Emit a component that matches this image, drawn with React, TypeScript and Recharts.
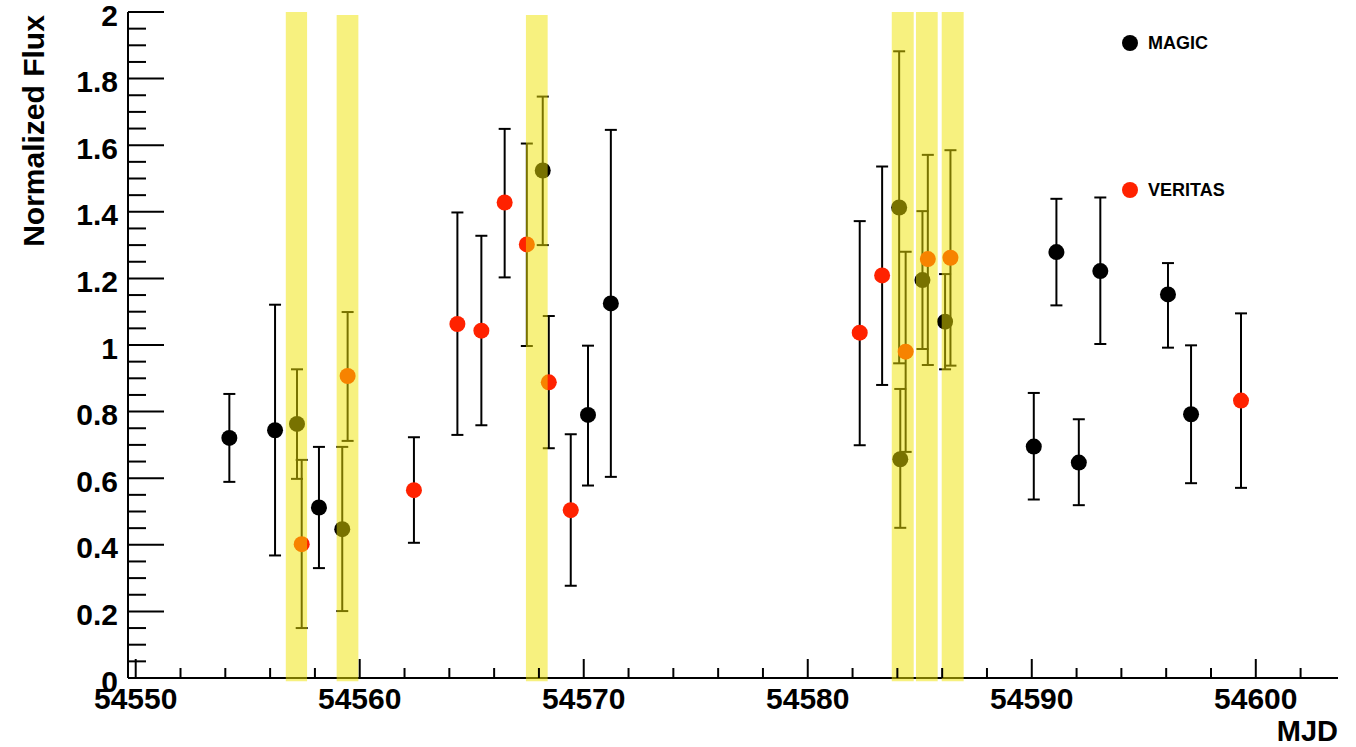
import React from "react";
import {
  ErrorBar,
  ReferenceArea,
  Scatter,
  ScatterChart,
  XAxis,
  YAxis,
} from "recharts";

const FONT = "'Liberation Sans', Arial, Helvetica, sans-serif";

// MAGIC light curve (MJD, normalized flux, lower / upper end of error bar)
const magicMjd = [
  54554.18, 54556.22, 54557.2, 54558.18, 54559.22, 54568.17, 54570.19,
  54571.21, 54584.08, 54584.13, 54585.12, 54586.13, 54590.09, 54591.1,
  54592.1, 54593.06, 54596.08, 54597.11,
];
const magicFlux = [
  0.721, 0.744, 0.763, 0.512, 0.447, 1.524, 0.79, 1.125, 1.413, 0.657, 1.195,
  1.07, 0.695, 1.279, 0.647, 1.222, 1.152, 0.792,
];
const magicLow = [
  0.589, 0.368, 0.598, 0.33, 0.201, 1.3, 0.578, 0.604, 0.945, 0.451, 0.988,
  0.927, 0.536, 1.119, 0.519, 1.003, 0.992, 0.585,
];
const magicHigh = [
  0.853, 1.121, 0.927, 0.694, 0.694, 1.746, 0.998, 1.646, 1.882, 0.868, 1.402,
  1.213, 0.856, 1.439, 0.777, 1.443, 1.246, 0.999,
];

// VERITAS light curve
const veritasMjd = [
  54557.41, 54559.46, 54562.42, 54564.36, 54565.43, 54566.47, 54567.46,
  54568.44, 54569.42, 54582.32, 54583.32, 54584.37, 54585.36, 54586.37,
  54599.34,
];
const veritasFlux = [
  0.402, 0.907, 0.564, 1.063, 1.043, 1.428, 1.302, 0.888, 0.504, 1.037, 1.209,
  0.98, 1.258, 1.262, 0.833,
];
const veritasLow = [
  0.15, 0.712, 0.406, 0.73, 0.759, 1.203, 0.997, 0.69, 0.277, 0.699, 0.88,
  0.679, 0.94, 0.938, 0.571,
];
const veritasHigh = [
  0.655, 1.099, 0.723, 1.398, 1.328, 1.649, 1.605, 1.087, 0.732, 1.372, 1.536,
  1.28, 1.571, 1.585, 1.095,
];

// simultaneous observation windows (yellow bands)
const bandStart = [54556.7, 54558.97, 54567.42, 54583.75, 54584.83, 54585.98];
const bandEnd = [54557.65, 54559.94, 54568.39, 54584.73, 54585.8, 54586.96];
const bandTop = [2, 1.991, 1.991, 2, 2, 2];

const xDomain = [54549.656, 54603.67];
const xMajorTicks = [54550, 54560, 54570, 54580, 54590, 54600];
const xTicks = [
  54550, 54552, 54554, 54556, 54558, 54560, 54562, 54564, 54566, 54568, 54570,
  54572, 54574, 54576, 54578, 54580, 54582, 54584, 54586, 54588, 54590, 54592,
  54594, 54596, 54598, 54600, 54602,
];
const yMajorTicks = [0, 0.2, 0.4, 0.6, 0.8, 1, 1.2, 1.4, 1.6, 1.8, 2];
const yTicks = [
  0, 0.05, 0.1, 0.15, 0.2, 0.25, 0.3, 0.35, 0.4, 0.45, 0.5, 0.55, 0.6, 0.65,
  0.7, 0.75, 0.8, 0.85, 0.9, 0.95, 1, 1.05, 1.1, 1.15, 1.2, 1.25, 1.3, 1.35,
  1.4, 1.45, 1.5, 1.55, 1.6, 1.65, 1.7, 1.75, 1.8, 1.85, 1.9, 1.95, 2,
];

const toPoints = (mjd: number[], flux: number[], lo: number[], hi: number[]) =>
  mjd.map((m, i) => ({
    mjd: m,
    flux: flux[i],
    err: [flux[i] - lo[i], hi[i] - flux[i]],
  }));

const magicData = toPoints(magicMjd, magicFlux, magicLow, magicHigh);
const veritasData = toPoints(veritasMjd, veritasFlux, veritasLow, veritasHigh);

const XTick = (props: any) => {
  const { x, y, payload } = props;
  const major = xMajorTicks.includes(payload.value);
  return (
    <g>
      <line x1={x} x2={x} y1={y} y2={y - (major ? 19 : 10)} stroke="#000" strokeWidth={2} />
      {major && (
        <text
          x={x}
          y={y + 30.5}
          textAnchor="middle"
          fontSize={30}
          fontWeight="bold"
          fontFamily={FONT}
          fill="#000"
        >
          {payload.value}
        </text>
      )}
    </g>
  );
};

const YTick = (props: any) => {
  const { x, y, payload } = props;
  const major = yMajorTicks.includes(payload.value);
  return (
    <g>
      <line x1={x} x2={x + (major ? 36 : 18)} y1={y} y2={y} stroke="#000" strokeWidth={2} />
      {major && (
        <text
          x={x - 10}
          y={y + 13.5}
          textAnchor="end"
          fontSize={30}
          fontWeight="bold"
          fontFamily={FONT}
          fill="#000"
        >
          {String(payload.value)}
        </text>
      )}
    </g>
  );
};

const dot = (color: string) => (p: any) =>
  <circle cx={p.cx} cy={p.cy} r={8} fill={color} />;

const axisLine = { stroke: "#000", strokeWidth: 2 };

export default function App() {
  return (
    <div
      style={{
        position: "absolute",
        left: 0,
        top: 0,
        width: 1356,
        height: 747,
        background: "#fff",
        fontFamily: FONT,
      }}
    >
      <ScatterChart
        width={1356}
        height={747}
        margin={{ top: 12, right: 18, bottom: 0, left: 0 }}
      >
        <XAxis
          type="number"
          dataKey="mjd"
          domain={xDomain}
          ticks={xTicks}
          interval={0}
          tickSize={0}
          tickMargin={0}
          tickLine={false}
          axisLine={axisLine}
          tick={<XTick />}
          height={69}
          allowDataOverflow
        />
        <XAxis
          xAxisId="top"
          orientation="top"
          type="number"
          domain={xDomain}
          height={0}
          tick={false}
          tickLine={false}
          axisLine={axisLine}
          allowDataOverflow
        />
        <YAxis
          type="number"
          dataKey="flux"
          domain={[0, 2]}
          ticks={yTicks}
          interval={0}
          tickSize={0}
          tickMargin={0}
          tickLine={false}
          axisLine={axisLine}
          tick={<YTick />}
          width={128}
          allowDataOverflow
        />
        <YAxis
          yAxisId="right"
          orientation="right"
          type="number"
          domain={[0, 2]}
          width={0}
          tick={false}
          tickLine={false}
          axisLine={axisLine}
        />
        <Scatter
          name="MAGIC"
          data={magicData}
          fill="#000"
          shape={dot("#000")}
          isAnimationActive={false}
        >
          <ErrorBar dataKey="err" direction="y" width={6} stroke="#000" strokeWidth={2} />
        </Scatter>
        <Scatter
          name="VERITAS"
          data={veritasData}
          fill="#ff2200"
          shape={dot("#ff2200")}
          isAnimationActive={false}
        >
          <ErrorBar dataKey="err" direction="y" width={6} stroke="#000" strokeWidth={2} />
        </Scatter>
        {bandStart.map((s, i) => (
          <ReferenceArea
            key={i}
            x1={s}
            x2={bandEnd[i]}
            y1={-0.01}
            y2={bandTop[i]}
            fill="#f0e400"
            fillOpacity={0.5}
            stroke="none"
            ifOverflow="visible"
            zIndex={700}
          />
        ))}
      </ScatterChart>

      {/* y title */}
      <div
        style={{
          position: "absolute",
          left: 34,
          top: 131,
          transform: "translate(-50%, -50%) rotate(-90deg)",
          fontSize: 30,
          fontWeight: "bold",
          whiteSpace: "nowrap",
          lineHeight: 1,
        }}
      >
        Normalized Flux
      </div>
      {/* x title */}
      <div
        style={{
          position: "absolute",
          right: 1356 - 1338,
          top: 717,
          fontSize: 29,
          fontWeight: "bold",
          lineHeight: 1,
        }}
      >
        MJD
      </div>

      {/* legend box */}
      <div
        style={{
          position: "absolute",
          left: 1111,
          top: 0,
          width: 152,
          height: 225,
          background: "#fff",
        }}
      >
        {[
          { label: "MAGIC", color: "#000", y: 43 },
          { label: "VERITAS", color: "#ff2200", y: 190 },
        ].map((it) => (
          <div key={it.label}>
            <div
              style={{
                position: "absolute",
                left: 19 - 8,
                top: it.y - 8,
                width: 16,
                height: 16,
                borderRadius: 8,
                background: it.color,
              }}
            />
            <div
              style={{
                position: "absolute",
                left: 37,
                top: it.y - 10,
                fontSize: 18,
                fontWeight: "bold",
                lineHeight: "20px",
              }}
            >
              {it.label}
            </div>
          </div>
        ))}
      </div>
    </div>
  );
}
